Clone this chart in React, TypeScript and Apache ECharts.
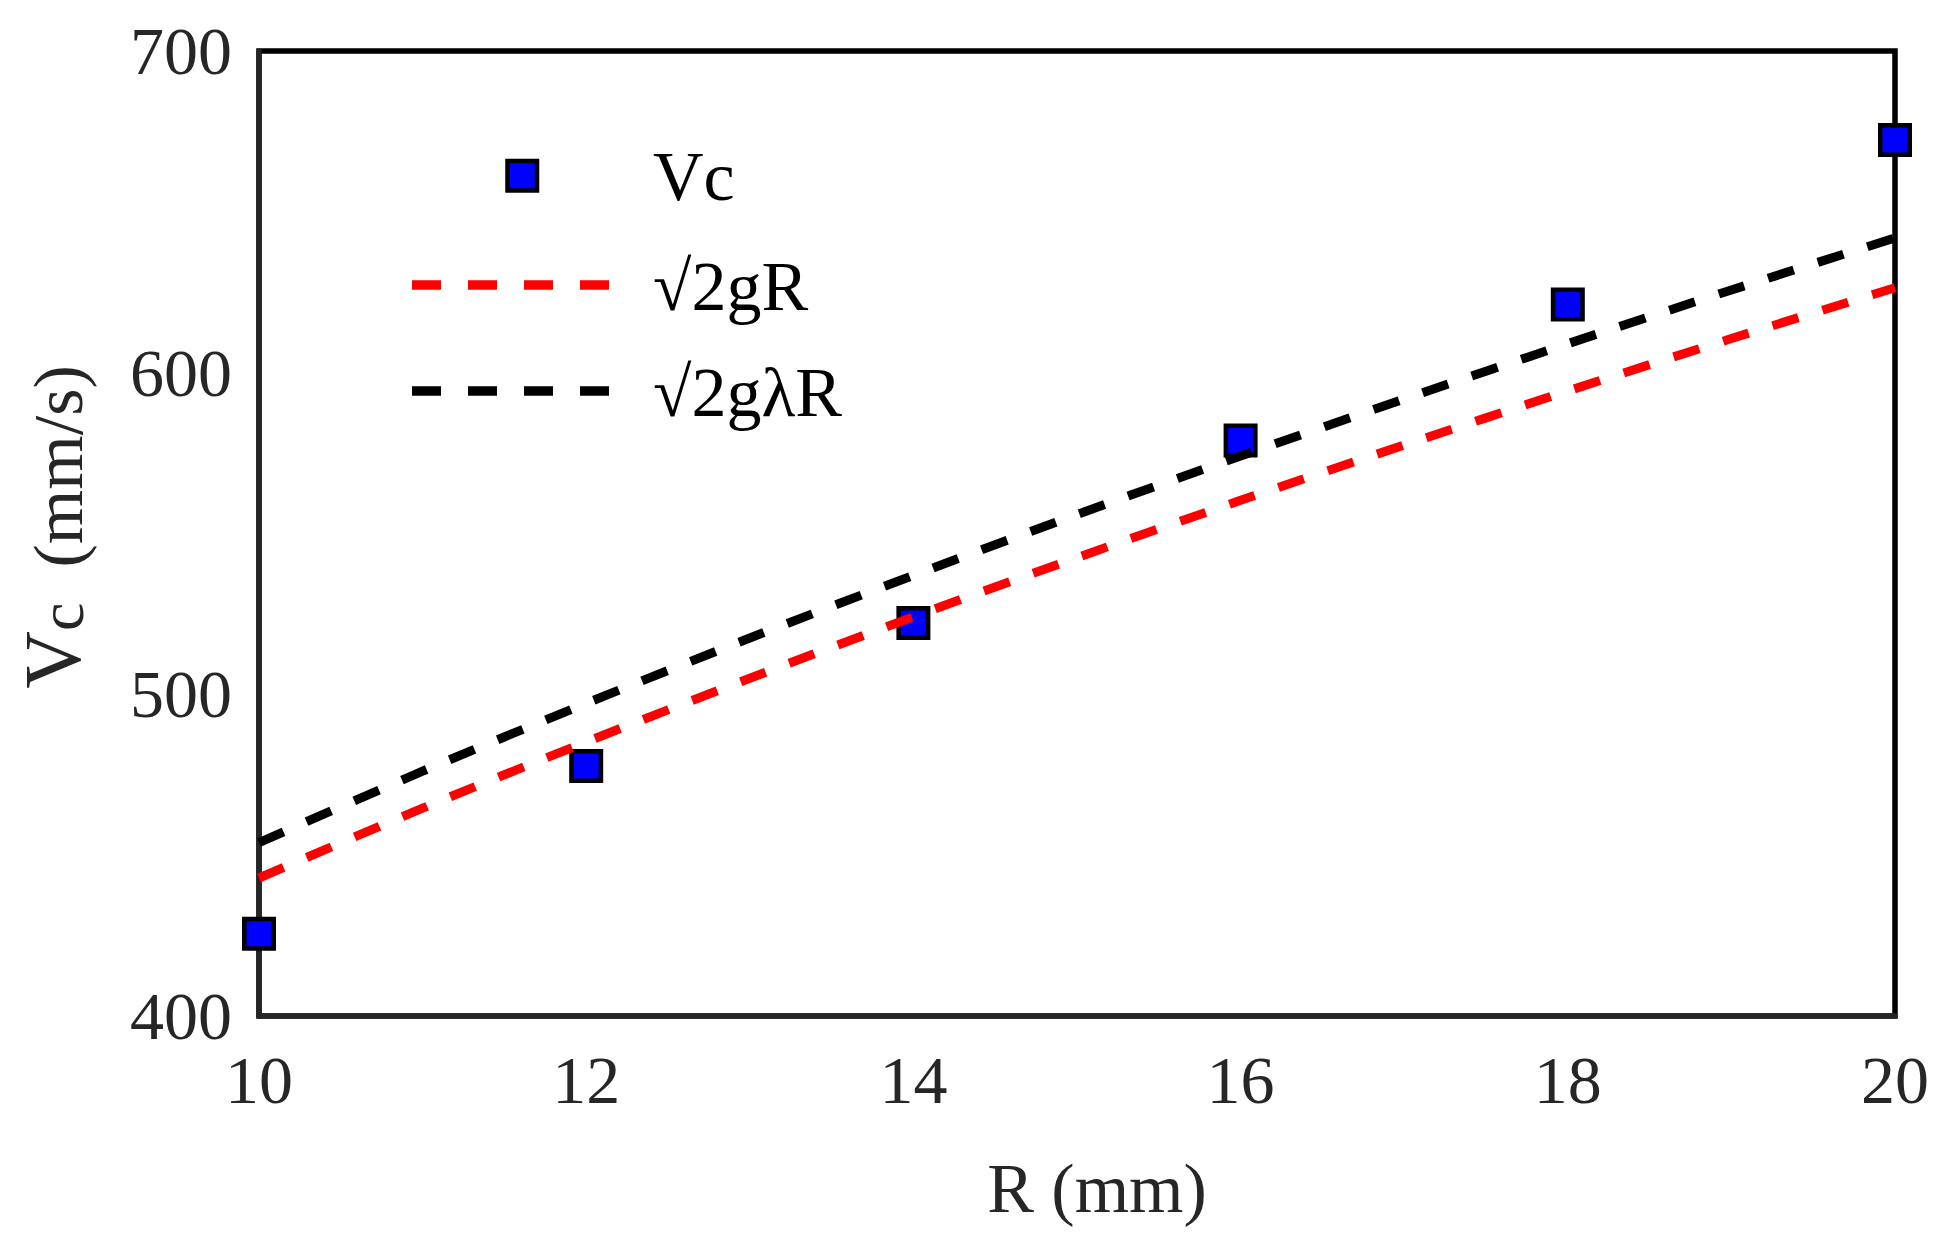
import * as React from "react";
import * as echarts from "echarts";

// R (mm) where Vc was measured
const radii = [10, 12, 14, 16, 18, 20];
const vcMeasured = [425.6, 477.7, 522.2, 578.9, 621.2, 672.3];

// model curves, read at every 1 mm
const radiiFine = [10, 11, 12, 13, 14, 15, 16, 17, 18, 19, 20];
const vFree = [442.9, 464.6, 485.2, 505.0, 524.1, 542.5, 560.3, 577.5, 594.3, 610.6, 626.4];
const vLambda = [453.9, 476.1, 497.2, 517.5, 537.0, 555.9, 574.1, 591.8, 609.0, 625.7, 641.9];

const legendNames = ["Vc", "√2gR", "√2gλR"];

const FONT = "Liberation Serif";
const INK = "#262626";

export default function App() {
  const ref = React.useRef<HTMLDivElement | null>(null);

  React.useEffect(() => {
    document.body.style.margin = "0";
    if (!ref.current) return;
    const chart = echarts.init(ref.current, undefined, { renderer: "svg" });

    const dash = [27, 25];
    const legendText = (y: number, text: string) => ({
      type: "text",
      x: 653,
      y,
      style: {
        text,
        fontFamily: FONT,
        fontSize: 70,
        fill: "#000",
        align: "left",
        verticalAlign: "middle",
      },
    });

    const option: echarts.EChartsOption = {
      animation: false,
      backgroundColor: "#fff",
      textStyle: { fontFamily: FONT },
      grid: {
        left: 259,
        top: 51,
        width: 1636,
        height: 965,
        show: true,
        borderColor: "#000",
        borderWidth: 5.5,
        containLabel: false,
      },
      xAxis: {
        type: "value",
        min: 10,
        max: 20,
        interval: 2,
        axisLine: { show: true, lineStyle: { color: INK, width: 5.5 } },
        axisTick: { show: false },
        splitLine: { show: false },
        axisLabel: { color: INK, fontFamily: FONT, fontSize: 68, margin: 30 },
      },
      yAxis: {
        type: "value",
        min: 400,
        max: 700,
        interval: 100,
        axisLine: { show: true, lineStyle: { color: INK, width: 5.5 } },
        axisTick: { show: false },
        splitLine: { show: false },
        axisLabel: { color: INK, fontFamily: FONT, fontSize: 68, margin: 27 },
      },
      series: [
        {
          name: legendNames[0],
          type: "scatter",
          data: radii.map((r, i) => [r, vcMeasured[i]]),
          symbol: "rect",
          symbolSize: 29.5,
          clip: false,
          z: 2,
          itemStyle: { color: "#0000ff", borderColor: "#000", borderWidth: 4.5, opacity: 1 },
        },
        {
          name: legendNames[1],
          type: "line",
          data: radiiFine.map((r, i) => [r, vFree[i]]),
          smooth: 0.3,
          showSymbol: false,
          z: 3,
          lineStyle: { color: "#ff0000", width: 9, type: dash },
        },
        {
          name: legendNames[2],
          type: "line",
          data: radiiFine.map((r, i) => [r, vLambda[i]]),
          smooth: 0.3,
          showSymbol: false,
          z: 3,
          lineStyle: { color: "#000", width: 9, type: dash },
        },
      ],
      graphic: [
        {
          type: "rect",
          shape: { x: 507.5, y: 161, width: 29.5, height: 29.5 },
          style: { fill: "#0000ff", stroke: "#000", lineWidth: 4.5 },
        },
        {
          type: "line",
          shape: { x1: 412, y1: 285, x2: 609, y2: 285 },
          style: { stroke: "#ff0000", lineWidth: 9.5, lineDash: [29, 27] },
        },
        {
          type: "line",
          shape: { x1: 412, y1: 391, x2: 609, y2: 391 },
          style: { stroke: "#000", lineWidth: 9.5, lineDash: [29, 27] },
        },
        legendText(176, legendNames[0]),
        legendText(286, legendNames[1]),
        legendText(392, legendNames[2]),
        {
          type: "text",
          x: 1097,
          y: 1188,
          style: {
            text: "R (mm)",
            fontFamily: FONT,
            fontSize: 70,
            fill: INK,
            align: "center",
            verticalAlign: "middle",
          },
        },
        {
          type: "text",
          x: 48,
          y: 527,
          rotation: Math.PI / 2,
          style: {
            text: "{v|V}{s|c}{t|  (mm/s)}",
            align: "center",
            verticalAlign: "middle",
            fill: INK,
            rich: {
              v: { fontFamily: FONT, fontSize: 80, fill: INK, lineHeight: 90, verticalAlign: "bottom" },
              s: { fontFamily: FONT, fontSize: 64, fill: INK, lineHeight: 90, verticalAlign: "bottom" },
              t: { fontFamily: FONT, fontSize: 70, fill: INK, lineHeight: 90, verticalAlign: "bottom" },
            },
          } as any,
        },
      ] as any,
    };

    chart.setOption(option);
    return () => chart.dispose();
  }, []);

  return (
    <div
      ref={ref}
      style={{ position: "fixed", left: 0, top: 0, width: 1948, height: 1250 }}
    />
  );
}
